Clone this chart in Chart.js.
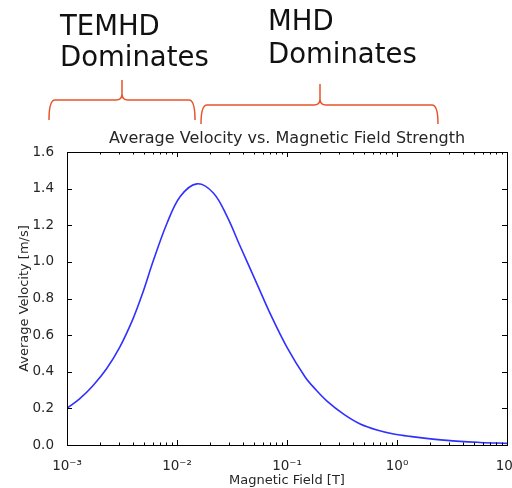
<!DOCTYPE html>
<html>
<head>
<meta charset="utf-8">
<script src="https://cdn.jsdelivr.net/npm/chart.js@4"></script>
<style>
  html, body { margin: 0; padding: 0; background: #fff; }
  #wrap { width: 512px; height: 488px; position: relative; }
</style>
</head>
<body>
<div id="wrap"><canvas id="velocityChart"></canvas></div>
<script>
// Data
const fieldT = [0.001, 0.0013, 0.00172, 0.00228, 0.00301, 0.00398, 0.00481, 0.00613, 0.00811, 0.0107,
    0.0152, 0.0215, 0.0285, 0.0376, 0.0533, 0.0705, 0.1, 0.1466, 0.181, 0.231,
    0.327, 0.463, 0.658, 0.931, 1.32, 2.85, 5.71, 10];
const velocity = [0.20, 0.252, 0.324, 0.415, 0.533, 0.689, 0.82, 1.011, 1.211, 1.357,
    1.426, 1.375, 1.248, 1.084, 0.88, 0.716, 0.533, 0.37, 0.305, 0.24,
    0.169, 0.115, 0.082, 0.060, 0.047, 0.025, 0.014, 0.009];
const xDecades = [0.001, 0.01, 0.1, 1, 10];
const xTickLabels = ['10\u207B\u00B3', '10\u207B\u00B2', '10\u207B\u00B9', '10\u2070', '10\u00B9'];
const yTicks = [0, 0.2, 0.4, 0.6, 0.8, 1.0, 1.2, 1.4, 1.6];
const chartTitle = 'Average Velocity vs. Magnetic Field Strength';

const textColor = '#262626';
const braceColor = '#e8532a';

// matplotlib style frame + inward ticks, title centred over the axes
const framePlugin = {
    id: 'frame',
    afterDraw(chart) {
        const {ctx, chartArea: a, scales} = chart;
        ctx.save();
        ctx.strokeStyle = '#000';
        ctx.lineWidth = 1;
        ctx.beginPath();
        xDecades.forEach((d, i) => {
            const px = Math.round(scales.x.getPixelForValue(d)) + 0.5;
            ctx.moveTo(px, a.bottom); ctx.lineTo(px, a.bottom - 5);
            ctx.moveTo(px, a.top); ctx.lineTo(px, a.top + 5);
            if (i < xDecades.length - 1) {
                for (let m = 2; m <= 9; m++) {
                    const mx = Math.round(scales.x.getPixelForValue(d * m)) + 0.5;
                    ctx.moveTo(mx, a.bottom); ctx.lineTo(mx, a.bottom - 2.5);
                    ctx.moveTo(mx, a.top); ctx.lineTo(mx, a.top + 2.5);
                }
            }
        });
        yTicks.forEach(v => {
            const py = Math.round(scales.y.getPixelForValue(v)) + 0.5;
            ctx.moveTo(a.left, py); ctx.lineTo(a.left + 5, py);
            ctx.moveTo(a.right, py); ctx.lineTo(a.right - 5, py);
        });
        ctx.stroke();
        ctx.strokeRect(Math.round(a.left) + 0.5, Math.round(a.top) + 0.5,
            Math.round(a.right - a.left), Math.round(a.bottom - a.top));

        ctx.fillStyle = textColor;
        ctx.font = '16px "DejaVu Sans"';
        ctx.textAlign = 'center';
        ctx.textBaseline = 'middle';
        ctx.fillText(chartTitle, (a.left + a.right) / 2, a.top - 13);
        ctx.restore();
    }
};

// curly brace: ends at yEnd, bar at yLine, point at yTip
function drawBrace(ctx, x1, x2, tip, yEnd, yLine, yTip) {
    const r = 6;
    ctx.beginPath();
    ctx.moveTo(x1, yEnd);
    ctx.quadraticCurveTo(x1, yLine, x1 + r, yLine);
    ctx.lineTo(tip - r, yLine);
    ctx.quadraticCurveTo(tip, yLine, tip, yLine - r);
    ctx.lineTo(tip, yTip);
    ctx.moveTo(tip, yLine - r);
    ctx.quadraticCurveTo(tip, yLine, tip + r, yLine);
    ctx.lineTo(x2 - r, yLine);
    ctx.quadraticCurveTo(x2, yLine, x2, yEnd);
    ctx.stroke();
}

const notesPlugin = {
    id: 'notes',
    afterDraw(chart) {
        const ctx = chart.ctx;
        ctx.save();
        ctx.fillStyle = '#111';
        ctx.font = '27.5px "DejaVu Sans"';
        ctx.textBaseline = 'alphabetic';
        ctx.textAlign = 'left';
        ctx.fillText('TEMHD', 60, 35);
        ctx.fillText('Dominates', 60, 66);
        ctx.fillText('MHD', 268, 30);
        ctx.fillText('Dominates', 268, 63);
        ctx.strokeStyle = braceColor;
        ctx.lineWidth = 1.5;
        drawBrace(ctx, 49, 195, 122, 120, 100, 80);
        drawBrace(ctx, 201, 438, 320, 124, 105, 84);
        ctx.restore();
    }
};

new Chart(document.getElementById('velocityChart'), {
    type: 'line',
    data: {
        datasets: [{
            data: fieldT.map((x, i) => ({x: x, y: velocity[i]})),
            borderColor: '#3030ff',
            borderWidth: 1.6,
            pointRadius: 0,
            tension: 0.35,
            fill: false
        }]
    },
    options: {
        responsive: true,
        maintainAspectRatio: false,
        animation: false,
        layout: { padding: { top: 152, right: 5, left: 0, bottom: 0 } },
        plugins: {
            legend: { display: false },
            tooltip: { enabled: false },
            title: { display: false }
        },
        scales: {
            x: {
                type: 'logarithmic',
                min: 0.001,
                max: 10,
                grid: { display: false },
                border: { display: false },
                afterBuildTicks: scale => { scale.ticks = xDecades.map(v => ({value: v})); },
                afterFit: scale => { scale.height = 43; scale.paddingLeft = 0; scale.paddingRight = 0; },
                ticks: {
                    color: textColor,
                    font: { family: 'DejaVu Sans', size: 13.5 },
                    padding: 5,
                    maxRotation: 0,
                    autoSkip: false,
                    callback: (v) => {
                        const i = xDecades.indexOf(v);
                        return i >= 0 ? xTickLabels[i] : '';
                    }
                },
                title: {
                    display: true,
                    text: 'Magnetic Field [T]',
                    color: textColor,
                    font: { family: 'DejaVu Sans', size: 13 },
                    padding: { top: 0, bottom: 0 }
                }
            },
            y: {
                min: 0,
                max: 1.6,
                grid: { display: false },
                border: { display: false },
                afterFit: scale => { scale.width = 67; scale.paddingTop = 0; },
                ticks: {
                    stepSize: 0.2,
                    color: textColor,
                    font: { family: 'DejaVu Sans', size: 13.5 },
                    padding: 5,
                    callback: v => Number(v).toFixed(1)
                },
                title: {
                    display: true,
                    text: 'Average Velocity [m/s]',
                    color: textColor,
                    font: { family: 'DejaVu Sans', size: 13 },
                    padding: { top: 17, bottom: 0 }
                }
            }
        }
    },
    plugins: [framePlugin, notesPlugin]
});
</script>
</body>
</html>
